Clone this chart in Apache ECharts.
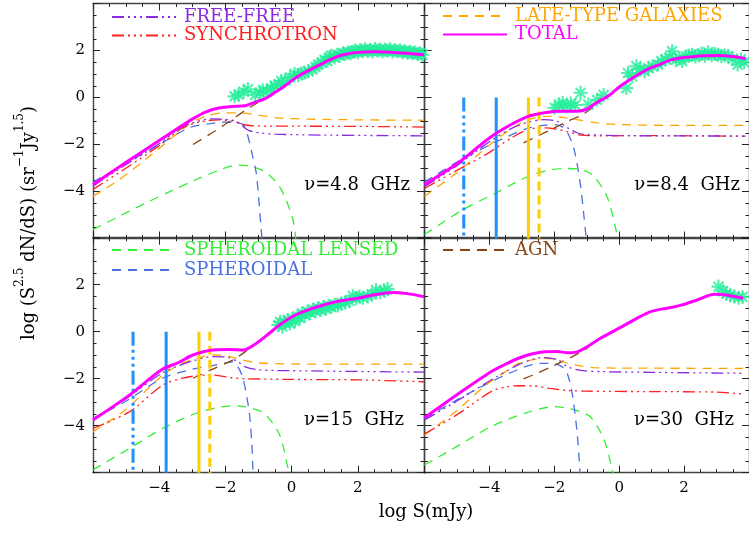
<!DOCTYPE html>
<html><head><meta charset="utf-8">
<script src="https://cdn.jsdelivr.net/npm/echarts@6/dist/echarts.min.js"></script>
<style>html,body{margin:0;padding:0;background:#fff}#c{width:749px;height:533px}</style>
</head><body><div id="c"></div>
<script>
// ---------- data (log S [mJy], log S^2.5 dN/dS) ----------
// 4.8 GHz
const total48 = [[-6,-3.70],[-5,-2.76],[-4,-1.83],[-3.4,-1.28],[-3.0,-0.92],[-2.6,-0.62],[-2.2,-0.45],[-1.8,-0.38],[-1.4,-0.35],[-1.1,-0.2],[-0.8,-0.05],[-0.5,0.22],[-0.2,0.5],[0.1,0.82],[0.4,1.07],[0.7,1.28],[1.0,1.5],[1.3,1.7],[1.6,1.83],[2.0,1.92],[2.5,1.95],[3.0,1.93],[3.5,1.88],[4,1.82]];
const late48 = [[-6,-4.2],[-5.2,-3.49],[-4.1,-2.28],[-3.1,-1.15],[-2.6,-0.8],[-2.0,-0.65],[-1.5,-0.66],[-1.0,-0.75],[-0.4,-0.87],[0.5,-0.92],[2,-0.95],[4,-0.97]];
const ff48 = [[-6,-3.77],[-5,-2.85],[-4,-1.97],[-3.3,-1.25],[-2.8,-1.0],[-2.4,-0.91],[-2.0,-0.93],[-1.7,-1.0],[-1.5,-1.2],[-1.3,-1.4],[-1.0,-1.5],[-0.5,-1.56],[1,-1.6],[4,-1.63]];
const sync48 = [[-6,-3.91],[-5,-3.0],[-4,-2.05],[-3.3,-1.3],[-2.8,-1.05],[-2.2,-0.95],[-1.8,-1.0],[-1.4,-1.17],[-1.0,-1.21],[0,-1.22],[2,-1.23],[4,-1.26]];
const sph48 = [[-6,-3.6],[-5,-2.8],[-4,-2.01],[-3.1,-1.29],[-2.5,-1.12],[-2.0,-1.05],[-1.6,-1.08],[-1.45,-1.18],[-1.35,-1.5],[-1.27,-1.93],[-1.17,-2.55],[-1.07,-3.2],[-1.0,-4.2],[-0.92,-5.6],[-0.88,-6.2]];
const lens48 = [[-6,-5.62],[-5.2,-5.05],[-4.39,-4.48],[-3.6,-3.95],[-2.88,-3.49],[-2.2,-3.1],[-1.67,-2.88],[-1.27,-2.92],[-1.0,-3.03],[-0.77,-3.2],[-0.5,-3.55],[-0.26,-4.06],[0.04,-5.19],[0.14,-6.2]];
const agn48 = [[-2.98,-2.0],[-2.4,-1.5],[-1.87,-1.01],[-1.4,-0.55],[-1.0,-0.2],[-0.8,-0.06]];
const ast48 = [[-1.72,0.05],[-1.6,0.12],[-1.45,0.25],[-1.32,0.35],[-1.1,0.1],[-0.95,0.22],[-0.87,0.3],[-0.75,0.25],[-0.62,0.4],[-0.51,0.5],[-0.4,0.55],[-0.31,0.7],[-0.2,0.72],[-0.05,0.85],[0.09,1.0],[0.2,0.95],[0.3,1.02],[0.39,1.06],[0.5,1.12],[0.64,1.2],[0.72,1.3],[0.8,1.4],[0.9,1.48],[1.0,1.6],[1.08,1.55],[1.15,1.72],[1.2,1.78],[1.3,1.7],[1.38,1.82],[1.45,1.78],[1.55,1.88],[1.62,1.85],[1.7,1.92],[1.78,1.88],[1.85,1.95],[1.92,2.0],[2.0,1.93],[2.08,2.02],[2.15,1.97],[2.22,2.05],[2.3,1.98],[2.38,2.03],[2.45,1.96],[2.52,2.06],[2.6,2.0],[2.68,2.04],[2.75,1.97],[2.82,2.03],[2.9,2.0],[2.98,2.05],[3.05,1.96],[3.12,2.02],[3.2,1.97],[3.28,2.0],[3.35,1.93],[3.42,1.98],[3.5,1.9],[3.58,1.95],[3.65,1.88],[3.72,1.92],[3.8,1.85],[3.88,1.88],[3.95,1.82]];
// 8.4 GHz
const total84 = [[-6,-3.70],[-5,-2.82],[-4,-1.72],[-3.4,-1.2],[-2.8,-0.8],[-2.3,-0.65],[-1.9,-0.59],[-1.3,-0.58],[-1.0,-0.5],[-0.7,-0.22],[-0.3,0.1],[0.0,0.45],[0.4,0.82],[0.8,1.15],[1.2,1.38],[1.6,1.6],[2.0,1.7],[2.6,1.78],[3.1,1.79],[3.5,1.74],[3.9,1.65]];
const late84 = [[-6,-4.2],[-5,-3.2],[-4.1,-2.14],[-3.4,-1.4],[-2.8,-0.94],[-2.2,-0.8],[-1.8,-0.84],[-1.3,-0.94],[-0.7,-1.08],[-0.08,-1.15],[1,-1.18],[3.9,-1.19]];
const ff84 = [[-6,-3.8],[-5,-2.9],[-4,-1.88],[-3.3,-1.3],[-2.8,-1.05],[-2.3,-0.94],[-1.9,-1.02],[-1.59,-1.29],[-1.3,-1.5],[-1.08,-1.57],[0,-1.62],[3.9,-1.64]];
const sync84 = [[-6,-3.87],[-5,-3.1],[-4.1,-2.42],[-3.3,-1.7],[-2.8,-1.36],[-2.4,-1.29],[-2.0,-1.33],[-1.6,-1.45],[-1.2,-1.6],[-0.5,-1.63],[1,-1.62],[3.9,-1.65]];
const sph84 = [[-6,-3.6],[-5,-2.75],[-3.86,-1.93],[-2.8,-1.3],[-2.3,-1.18],[-1.99,-1.15],[-1.75,-1.25],[-1.59,-1.5],[-1.39,-2.21],[-1.19,-3.77],[-1.04,-5.69],[-1.0,-6.2]];
const lens84 = [[-6,-5.83],[-4.81,-4.77],[-3.8,-4.06],[-2.8,-3.35],[-2.2,-3.1],[-1.69,-3.02],[-1.3,-3.04],[-1.0,-3.15],[-0.78,-3.35],[-0.38,-4.2],[-0.1,-5.62],[-0.04,-6.2]];
const agn84 = [[-2.95,-1.93],[-2.5,-1.63],[-2.09,-1.36],[-1.6,-1.02],[-1.2,-0.78],[-0.8,-0.42],[-0.6,-0.22]];
const ast84 = [[-1.99,-0.44],[-1.85,-0.3],[-1.74,-0.23],[-1.62,-0.38],[-1.49,-0.25],[-1.35,-0.32],[-1.19,0.2],[-0.95,-0.3],[-0.68,-0.1],[-0.48,0.11],[0.22,0.4],[0.27,1.04],[0.4,0.9],[0.53,1.33],[0.65,1.2],[0.78,1.12],[0.9,1.25],[1.03,1.33],[1.2,1.4],[1.3,1.55],[1.43,1.62],[1.55,1.7],[1.63,1.97],[1.75,1.6],[1.85,1.68],[1.94,1.55],[2.05,1.75],[2.15,1.78],[2.24,1.82],[2.35,1.75],[2.45,1.8],[2.54,1.86],[2.64,1.78],[2.74,1.93],[2.85,1.8],[2.95,1.85],[3.04,1.82],[3.15,1.76],[3.25,1.8],[3.35,1.77],[3.5,1.65],[3.65,1.4],[3.75,1.62],[3.85,1.5]];
// 15 GHz
const total15 = [[-6,-3.76],[-4.89,-2.69],[-3.94,-1.63],[-3.4,-1.3],[-2.98,-0.99],[-2.38,-0.78],[-1.9,-0.76],[-1.47,-0.78],[-1.07,-0.5],[-0.7,-0.1],[-0.36,0.29],[0.1,0.7],[0.64,1.0],[1.0,1.15],[1.35,1.28],[1.65,1.35],[2.0,1.42],[2.46,1.56],[3.06,1.67],[3.5,1.62],[4.0,1.49]];
const late15 = [[-6,-4.26],[-5,-3.3],[-3.89,-1.84],[-3.3,-1.35],[-2.8,-1.1],[-2.32,-0.99],[-1.9,-1.05],[-1.5,-1.2],[-1.0,-1.33],[0,-1.37],[2,-1.38],[4,-1.38]];
const ff15 = [[-6,-3.7],[-5,-2.85],[-3.9,-1.75],[-3.0,-1.25],[-2.38,-1.06],[-1.9,-1.1],[-1.6,-1.3],[-1.4,-1.5],[-1.0,-1.62],[0,-1.66],[4,-1.72]];
const sync15 = [[-6,-4.11],[-4.89,-3.4],[-3.89,-2.27],[-3.3,-1.98],[-2.9,-1.88],[-2.4,-1.84],[-1.8,-1.96],[-1.4,-2.0],[0,-2.03],[2,-2.05],[4,-2.13]];
const sph15 = [[-6,-3.7],[-5,-2.95],[-3.9,-1.98],[-3.0,-1.6],[-2.38,-1.44],[-2.0,-1.33],[-1.77,-1.28],[-1.6,-1.55],[-1.47,-1.98],[-1.35,-2.8],[-1.27,-3.54],[-1.2,-4.8],[-1.17,-5.8],[-1.15,-6.2]];
const lens15 = [[-6,-5.88],[-4.89,-4.96],[-3.89,-4.11],[-2.88,-3.47],[-2.3,-3.25],[-1.77,-3.15],[-1.37,-3.2],[-1.0,-3.35],[-0.77,-3.54],[-0.36,-4.4],[-0.11,-5.8],[-0.06,-6.2]];
const agn15 = [[-2.98,-1.98],[-2.4,-1.6],[-1.77,-1.2],[-1.3,-0.75],[-1.07,-0.5]];
const ast15 = [[-0.4,0.28],[-0.35,0.42],[-0.28,0.22],[-0.2,0.38],[-0.12,0.5],[-0.05,0.35],[0.02,0.55],[0.1,0.45],[0.18,0.65],[0.25,0.58],[0.32,0.78],[0.4,0.7],[0.48,0.85],[0.56,0.8],[0.64,0.95],[0.72,0.88],[0.8,1.0],[0.88,0.92],[0.96,1.05],[1.04,0.98],[1.12,1.1],[1.2,1.05],[1.3,1.15],[1.4,1.12],[1.5,1.2],[1.62,1.25],[1.75,1.3],[1.85,1.52],[1.95,1.42],[2.05,1.5],[2.15,1.45],[2.3,1.5],[2.42,1.58],[2.55,1.77],[2.68,1.68],[2.8,1.75],[2.9,1.82]];
// 30 GHz
const total30 = [[-6,-3.66],[-5.01,-2.69],[-3.95,-1.7],[-3.5,-1.38],[-3.1,-1.13],[-2.7,-0.95],[-2.29,-0.85],[-1.9,-0.84],[-1.59,-0.9],[-1.3,-0.86],[-1.0,-0.65],[-0.58,-0.28],[0,0.15],[0.32,0.4],[0.93,0.83],[1.33,0.97],[1.6,1.03],[1.94,1.14],[2.4,1.35],[2.94,1.59],[3.3,1.56],[3.82,1.42]];
const late30 = [[-6,-4.4],[-5,-3.35],[-4.11,-2.27],[-3.5,-1.7],[-3.1,-1.35],[-2.6,-1.18],[-2.29,-1.13],[-1.9,-1.2],[-1.59,-1.35],[-1.2,-1.45],[-0.78,-1.53],[0.5,-1.55],[3.82,-1.56]];
const ff30 = [[-6,-3.76],[-5,-2.95],[-4,-2.1],[-3.1,-1.4],[-2.6,-1.15],[-2.29,-1.1],[-1.9,-1.2],[-1.59,-1.49],[-1.2,-1.65],[-0.5,-1.7],[1,-1.73],[3.82,-1.77]];
const sync30 = [[-6,-4.35],[-5.01,-3.54],[-3.95,-2.55],[-3.5,-2.35],[-3.1,-2.3],[-2.7,-2.3],[-2.2,-2.4],[-1.6,-2.5],[-1.0,-2.53],[1,-2.55],[3.0,-2.57],[3.82,-2.65]];
const sph30 = [[-6,-3.7],[-5,-2.9],[-3.95,-2.13],[-2.9,-1.49],[-2.4,-1.35],[-2.09,-1.35],[-1.69,-1.56],[-1.55,-2.0],[-1.44,-2.69],[-1.29,-4.4],[-1.2,-6.2]];
const lens30 = [[-6,-5.67],[-5.01,-4.89],[-3.95,-4.04],[-2.9,-3.47],[-1.99,-3.19],[-1.59,-3.26],[-1.2,-3.4],[-0.89,-3.62],[-0.48,-4.54],[-0.23,-5.8],[-0.18,-6.2]];
const agn30 = [[-2.95,-2.01],[-2.5,-1.75],[-2.09,-1.49],[-1.5,-1.1],[-1.08,-0.78],[-0.95,-0.66]];
const ast30 = [[3.06,1.92],[3.2,1.72],[3.3,1.62],[3.42,1.55],[3.55,1.5],[3.68,1.45],[3.8,1.48]];
// vertical markers (panels 8.4 and 15 GHz)
const vlineX = [-4.79, -3.79, -2.80, -2.47];
const vlineTop = 0, vlineBottom = -6;
// axes
const axisMin = -6, axisMax = 4, axisStep = 2;
const freqLabels = ['ν=4.8  GHz', 'ν=8.4  GHz', 'ν=15  GHz', 'ν=30  GHz'];

// ---------- chart ----------
const FONT = 'DejaVu Serif';
const grids = [
  {left: 93, top: 3.5, width: 331, height: 235},
  {left: 424.5, top: 3.5, width: 331, height: 235},
  {left: 93, top: 237.7, width: 331, height: 235},
  {left: 424.5, top: 237.7, width: 331, height: 235}
];
const AX = '#444';
function fmt(v) { return (v === axisMin || v === axisMax) ? '' : String(v).replace('-', '\u2212'); }
function mkAxis(gi, pos, showLab) {
  return {
    gridIndex: gi, type: 'value', min: axisMin, max: axisMax, interval: axisStep, position: pos,
    axisLine: {show: true, onZero: false, lineStyle: {color: AX, width: 1.4}},
    axisTick: {show: true, inside: true, length: 7, lineStyle: {color: '#222', width: 1}},
    minorTick: {show: true, splitNumber: 4, length: 3.5, lineStyle: {color: '#222', width: 1}},
    splitLine: {show: false}, minorSplitLine: {show: false},
    axisLabel: {show: showLab, formatter: fmt, fontFamily: FONT, fontSize: 15, color: '#000', margin: 8, showMinLabel: false, showMaxLabel: false}
  };
}
const xAxes = [], yAxes = [];
for (let gi = 0; gi < 4; gi++) {
  xAxes.push(mkAxis(gi, 'bottom', gi >= 2));
  xAxes.push(mkAxis(gi, 'top', false));
  yAxes.push(mkAxis(gi, 'left', gi % 2 === 0));
  yAxes.push(mkAxis(gi, 'right', false));
}
const DDD = [12, 4, 2, 4, 2, 4, 2, 4];
const ST = {
  late: {name: 'LATE-TYPE GALAXIES', color: '#ffa500', width: 1.3, type: [9, 7], z: 3},
  ff:   {name: 'FREE-FREE', color: '#8a2be2', width: 1.3, type: DDD, z: 4},
  sync: {name: 'SYNCHROTRON', color: '#ff2020', width: 1.3, type: DDD, z: 4},
  sph:  {name: 'SPHEROIDAL', color: '#4a6fe3', width: 1.3, type: [9, 7], z: 3},
  lens: {name: 'SPHEROIDAL LENSED', color: '#33ee33', width: 1.3, type: [9, 7], z: 3},
  agn:  {name: 'AGN', color: '#8b4513', width: 1.3, type: [10, 7], z: 3},
  total:{name: 'TOTAL', color: '#ff00ff', width: 3, type: 'solid', z: 10}
};
const panels = [
  {total: total48, late: late48, ff: ff48, sync: sync48, sph: sph48, lens: lens48, agn: agn48, ast: ast48, vl: false},
  {total: total84, late: late84, ff: ff84, sync: sync84, sph: sph84, lens: lens84, agn: agn84, ast: ast84, vl: true},
  {total: total15, late: late15, ff: ff15, sync: sync15, sph: sph15, lens: lens15, agn: agn15, ast: ast15, vl: true},
  {total: total30, late: late30, ff: ff30, sync: sync30, sph: sph30, lens: lens30, agn: agn30, ast: ast30, vl: false}
];
const STAR = 'path://M-1.5,-10L1.5,-10L1.5,10L-1.5,10ZM-10,-1.5L10,-1.5L10,1.5L-10,1.5ZM-6,-8.1L8.1,6L6,8.1L-8.1,-6ZM6,-8.1L8.1,-6L-6,8.1L-8.1,6Z';
const series = [];
panels.forEach((p, gi) => {
  ['lens', 'sph', 'agn', 'late', 'sync', 'ff'].forEach(k => {
    const s = ST[k];
    series.push({type: 'line', name: s.name, data: p[k], xAxisIndex: gi * 2, yAxisIndex: gi * 2,
      symbol: 'none', smooth: 0.3, z: s.z, itemStyle: {color: s.color},
      lineStyle: {color: s.color, width: s.width, type: s.type}});
  });
  series.push({type: 'scatter', name: 'data', data: p.ast, xAxisIndex: gi * 2, yAxisIndex: gi * 2,
    symbol: STAR, symbolSize: 14, itemStyle: {color: '#22ee99'}, z: 6});
  if (p.vl) {
    const vst = [
      {color: '#1e90ff', type: [14, 4, 3, 4, 3, 4, 3, 4]},
      {color: '#1e90ff', type: 'solid'},
      {color: '#ffcc00', type: 'solid'},
      {color: '#ffcc00', type: [9, 5]}
    ];
    vlineX.forEach((x, i) => {
      series.push({type: 'line', name: 'v' + i, data: [[x, vlineTop], [x, vlineBottom]],
        xAxisIndex: gi * 2, yAxisIndex: gi * 2, symbol: 'none', z: 8,
        lineStyle: {color: vst[i].color, width: 3, type: vst[i].type}});
    });
  }
  const s = ST.total;
  series.push({type: 'line', name: s.name, data: p.total, xAxisIndex: gi * 2, yAxisIndex: gi * 2,
    symbol: 'none', smooth: 0.3, z: s.z, itemStyle: {color: s.color},
    lineStyle: {color: s.color, width: s.width, type: s.type}});
});
function leg(left, top, keys, gap) {
  return {left: left, top: top, orient: 'vertical', padding: 0, itemWidth: 64, itemHeight: 12, itemGap: gap,
    selectedMode: false, itemStyle: {opacity: 0},
    textStyle: {fontFamily: FONT, fontSize: 18, lineHeight: 18, padding: [0, 0, 0, 3]},
    data: keys.map(k => ({name: ST[k].name, textStyle: {color: ST[k].color}}))};
}
const legends = [
  leg(111, 8, ['ff', 'sync'], 0.5),
  leg(442, 7, ['late', 'total'], 0.5),
  leg(111, 241, ['lens', 'sph'], 2),
  leg(442, 241, ['agn'], 2)
];
const labelPos = [[410, 185], [740, 185], [404, 420], [734, 420]];
const graphics = freqLabels.map((t, i) => ({type: 'text', x: labelPos[i][0], y: labelPos[i][1],
  style: {text: t, fontFamily: FONT, fontSize: 18, fill: '#000', align: 'right', verticalAlign: 'middle'}}));
graphics.push({type: 'text', x: 426, y: 512, style: {text: 'log S(mJy)', fontFamily: FONT, fontSize: 18, fill: '#000', align: 'center', verticalAlign: 'middle'}});
graphics.push({type: 'text', x: 26, y: 223, rotation: Math.PI / 2,
  style: {text: '{a|log (S}{b|2.5}{a| dN/dS) (sr}{b|\u22121}{a|Jy}{b|1.5}{a|)}', align: 'center', verticalAlign: 'middle',
    rich: {a: {fontFamily: FONT, fontSize: 18, fill: '#000', lineHeight: 24, verticalAlign: 'bottom'},
           b: {fontFamily: FONT, fontSize: 12, fill: '#000', lineHeight: 24, verticalAlign: 'top'}}}});

const chart = echarts.init(document.getElementById('c'));
chart.setOption({
  animation: false, backgroundColor: '#fff',
  grid: grids, xAxis: xAxes, yAxis: yAxes, legend: legends, series: series, graphic: graphics
});
</script></body></html>
